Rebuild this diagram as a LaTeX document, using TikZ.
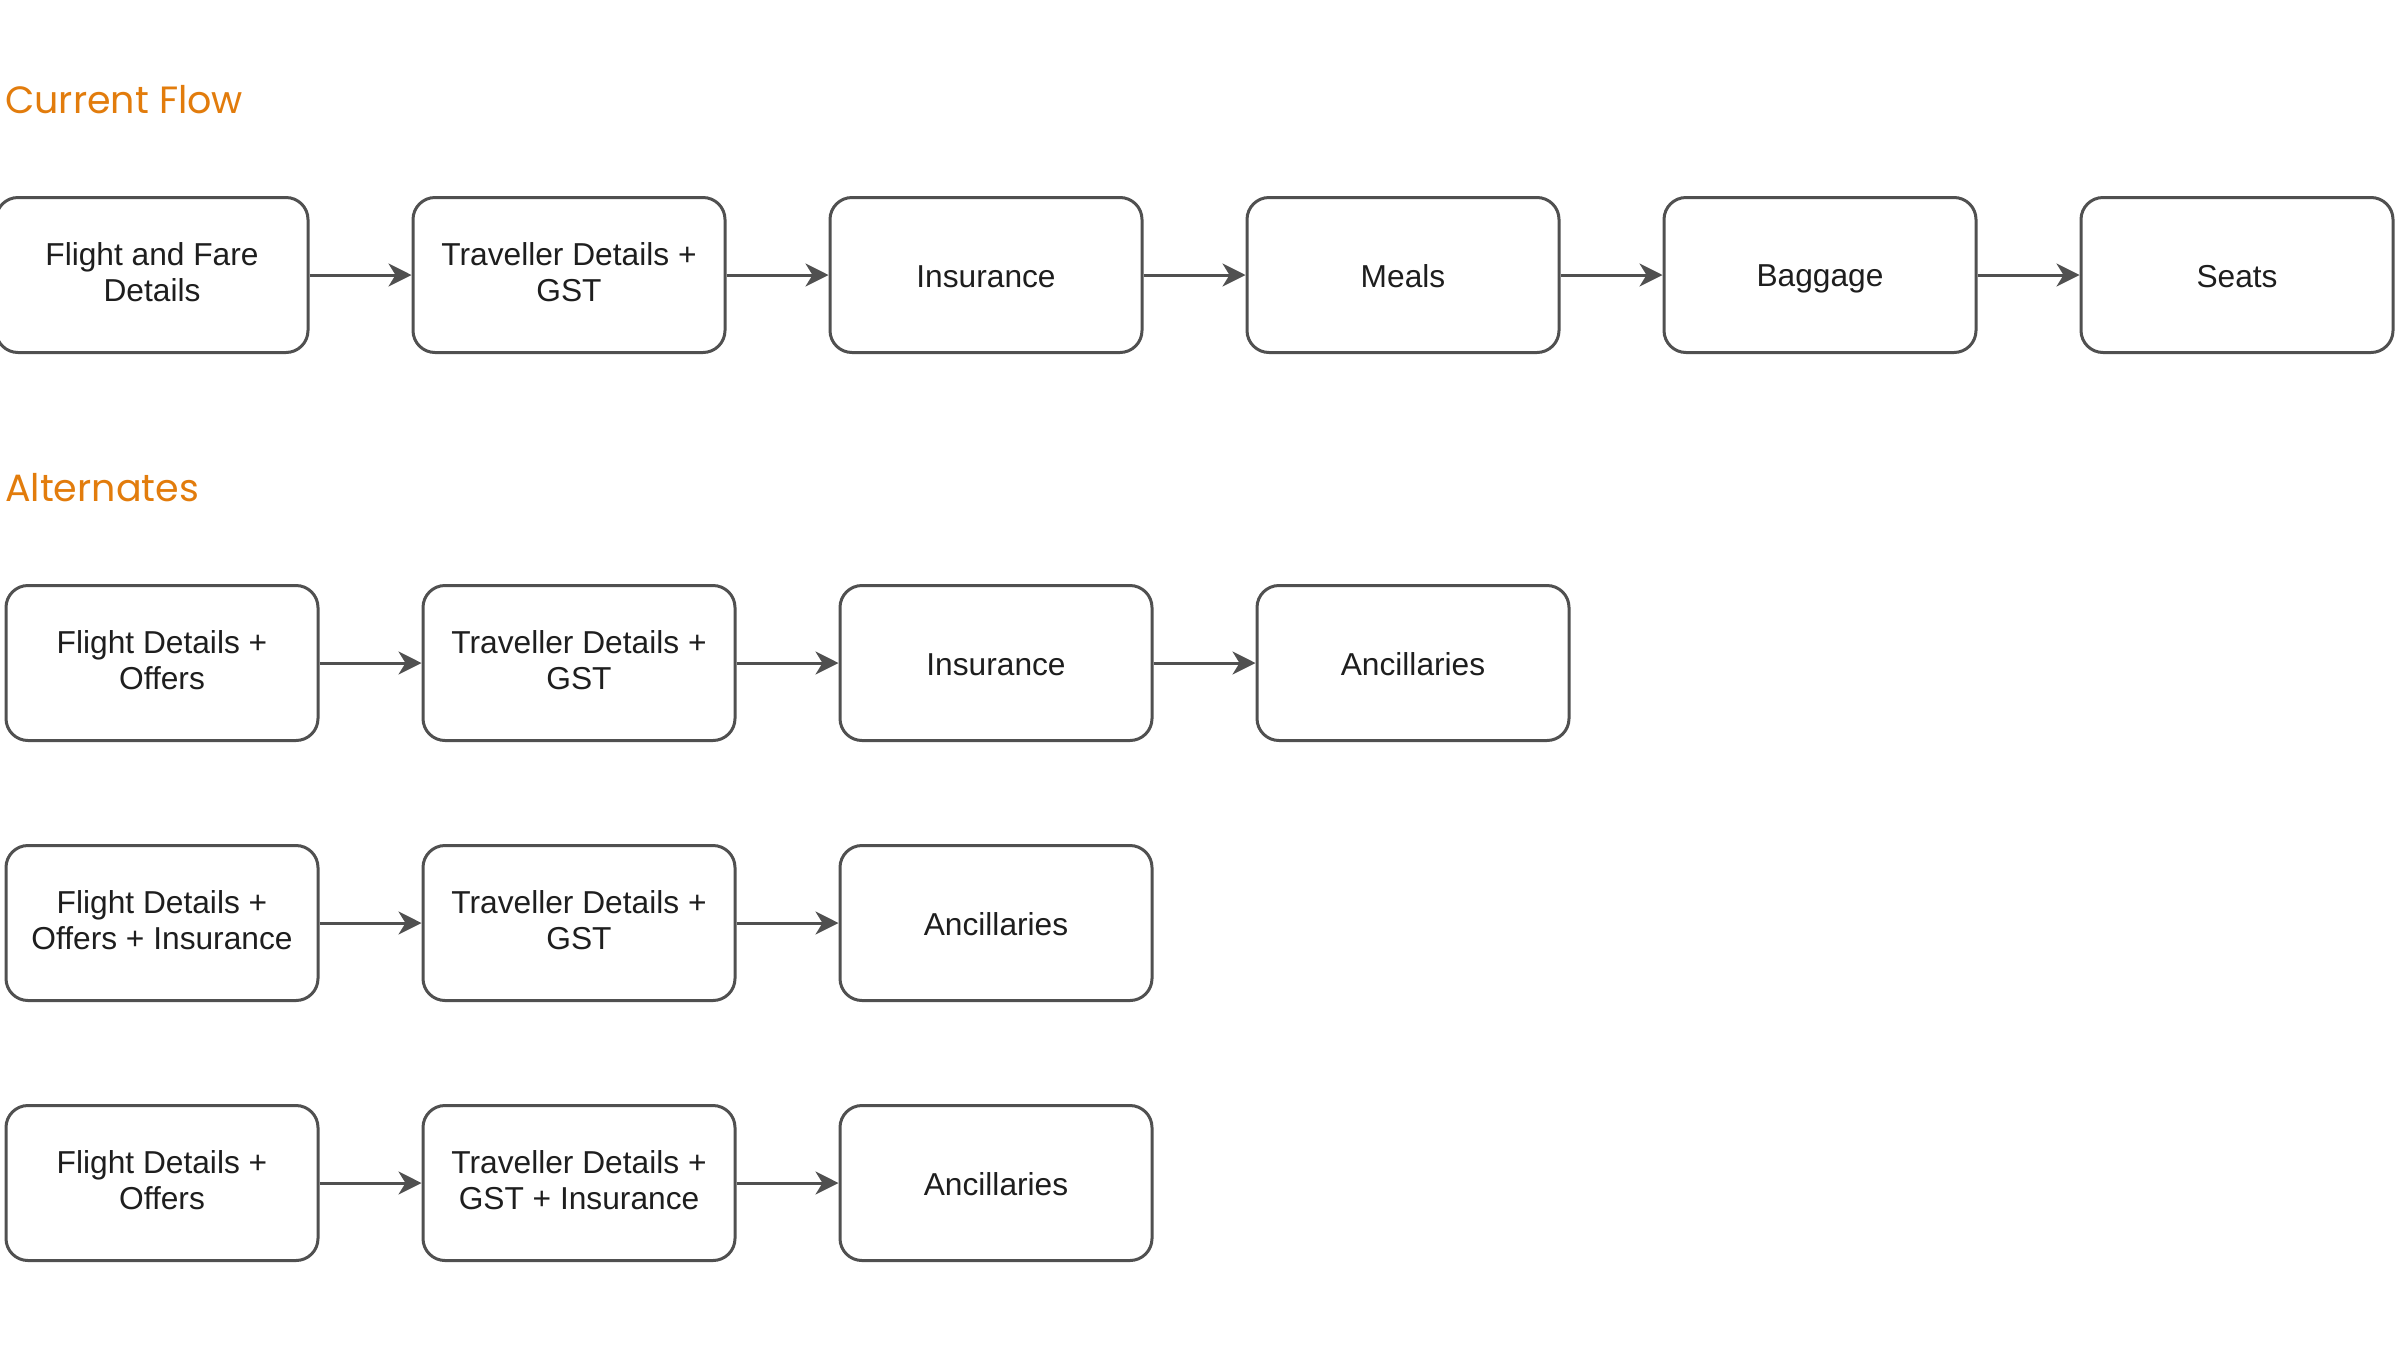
\documentclass[tikz,border=0pt]{standalone}
\usepackage{fontspec}
\setmainfont{Liberation Sans}
\newfontfamily\titlefont{Poppins}
\usetikzlibrary{arrows.meta}
\definecolor{ttl}{RGB}{226,124,12}
\definecolor{edge}{RGB}{80,80,80}
\definecolor{txt}{RGB}{30,30,30}
\newcommand{\boxstrut}{\rule[-6.15pt]{0pt}{36.7pt}}
\tikzset{
  stepbox/.style={draw=edge, line width=3pt, rounded corners=22pt, minimum width=312pt, minimum height=155pt, align=center, text=txt, font=\fontsize{31.7}{36.7}\selectfont, inner sep=0pt, execute at begin node=\boxstrut, execute at end node=\boxstrut},
  flow/.style={draw=edge, line width=3pt, -{Stealth[length=23pt,width=23pt,inset=7pt]}},
  heading/.style={anchor=base west, text=ttl, font=\titlefont\fontsize{38}{42}\selectfont, inner sep=0pt}
}
\begin{document}
\begin{tikzpicture}[x=1pt,y=-1pt]
\useasboundingbox (0,0) rectangle (2400,1350);
\fill[white] (0,0) rectangle (2400,1350);
\node[heading] (h1) at (5,113) {Current Flow};
\node[heading] (h2) at (5,501) {Alternates};
% current flow
\node[stepbox] (c1) at (152,275) {Flight and Fare\\Details};
\node[stepbox] (c2) at (569,275) {Traveller Details +\\GST};
\node[stepbox] (c3) at (986,275) {Insurance};
\node[stepbox] (c4) at (1403,275) {Meals};
\node[stepbox] (c5) at (1820,275) {Baggage};
\node[stepbox] (c6) at (2237,275) {Seats};
\draw[flow] (c1) -- (c2);
\draw[flow] (c2) -- (c3);
\draw[flow] (c3) -- (c4);
\draw[flow] (c4) -- (c5);
\draw[flow] (c5) -- (c6);
% alternate 1
\node[stepbox] (a1) at (162,663) {Flight Details +\\Offers};
\node[stepbox] (a2) at (579,663) {Traveller Details +\\GST};
\node[stepbox] (a3) at (996,663) {Insurance};
\node[stepbox] (a4) at (1413,663) {Ancillaries};
\draw[flow] (a1) -- (a2);
\draw[flow] (a2) -- (a3);
\draw[flow] (a3) -- (a4);
% alternate 2
\node[stepbox] (b1) at (162,923) {Flight Details +\\Offers + Insurance};
\node[stepbox] (b2) at (579,923) {Traveller Details +\\GST};
\node[stepbox] (b3) at (996,923) {Ancillaries};
\draw[flow] (b1) -- (b2);
\draw[flow] (b2) -- (b3);
% alternate 3
\node[stepbox] (d1) at (162,1183) {Flight Details +\\Offers};
\node[stepbox] (d2) at (579,1183) {Traveller Details +\\GST + Insurance};
\node[stepbox] (d3) at (996,1183) {Ancillaries};
\draw[flow] (d1) -- (d2);
\draw[flow] (d2) -- (d3);
\end{tikzpicture}
\end{document}
